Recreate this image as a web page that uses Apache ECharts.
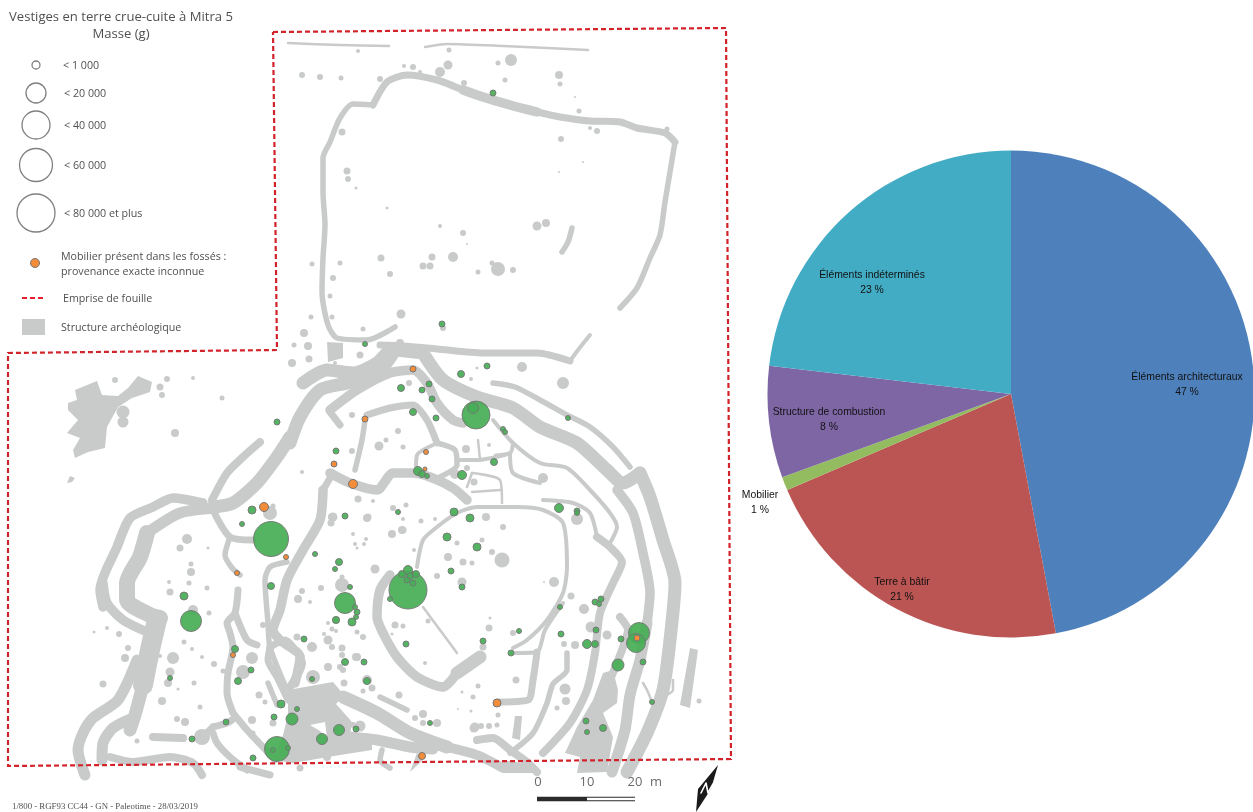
<!DOCTYPE html>
<html><head><meta charset="utf-8"><title>Mitra 5</title>
<style>html,body{margin:0;padding:0;background:#fff}#c{width:1253px;height:812px}</style>
<script src="https://cdn.jsdelivr.net/npm/echarts@6/dist/echarts.min.js"></script></head>
<body><div id="c"></div>
<script>
// ---------- pie data
const pieNames=["Éléments architecturaux","Terre à bâtir","Mobilier","Structure de combustion","Éléments indéterminés"];
const pieValues=[47.05,21.5,0.9,7.4,23.15];
const pieShown=["47 %","21 %","1 %","8 %","23 %"];
const pieColors=["#4e80bc","#bb5553","#93bc60","#7e66a5","#43acc5"];
const pieLabelXY=[[1187,385],[902,590],[760,503],[829,420],[872,283]];

// ---------- map data (axis units)
const excavation=[[273,32],[726,28],[731,759],[8,766],[8,353],[277,350],[273,32]];
const ditchW2=[
[[288,43],[340,45],[389,46]],[[425,47],[447,44],[503,46],[588,50]],
[[423,607],[440,630],[457,653]],[[673,680],[673,690],[667,695]],[[643,683],[647,690],[652,702]],
[[472,473],[500,480],[502,503]],[[472,492],[500,490]],[[467,487],[472,473]],[[478,440],[480,460]],[[495,455],[510,453]]];
const ditchW3=[
[[570,361],[578,350],[590,335]],[[493,420],[513,443],[540,463],[567,468],[590,490],[610,513],[617,527],[610,543]],
[[543,500],[573,503],[590,513],[597,537]],
[[417,567],[423,540],[437,527],[457,513],[477,507],[517,507],[543,510],[563,523],[567,567],[563,593],[547,620],[527,640],[513,648]],
[[513,653],[537,652],[545,630],[563,603]],[[433,445],[417,455],[416,470]],
[[457,460],[480,460]],[[480,460],[510,453],[513,443]],[[510,453],[513,473],[540,483]]];
const ditchW4=[
[[620,308],[637,288],[650,258],[660,235],[665,202],[670,172],[675,142]],
[[373,105],[353,104],[340,118],[330,142],[323,158],[323,192],[325,225],[323,258],[322,292],[328,325],[337,338],[367,340],[395,327]],
[[572,228],[568,242],[562,252]],[[493,383],[515,387],[540,400],[567,415],[590,427],[613,447],[630,467]],
[[355,470],[362,440],[365,420]],[[437,443],[455,450],[457,465],[433,480]],
[[287,562],[270,567],[265,580],[268,623],[270,647],[287,690]],[[230,537],[225,555],[232,568],[240,575]],
[[382,750],[380,760],[390,768]],[[380,697],[407,710]],[[268,683],[277,705]],
[[567,653],[567,670],[553,684],[547,703],[533,733],[510,753]]];
const ditchW5=[
[[675,142],[665,133],[637,128],[620,122],[590,121],[560,117],[537,112]],
[[463,90],[437,80],[407,75],[387,82],[373,105]],
[[380,345],[403,346],[437,349],[483,353],[537,353],[570,361]],
[[537,652],[533,680],[528,700],[497,702]],[[340,425],[330,412]],[[367,415],[390,408],[413,405],[427,420],[437,443]],
[[323,490],[333,473]],[[270,647],[268,660],[277,677],[288,700]],[[270,647],[285,640],[300,657]],
[[213,510],[230,537],[253,540]],[[213,727],[227,723],[232,720]],[[202,737],[213,727]],
[[233,713],[247,730],[263,747],[275,760]],[[213,733],[217,743],[230,757],[247,770]],[[240,767],[270,775]],
[[238,590],[235,613],[227,623],[230,633],[233,647],[228,673],[227,693],[233,713]],
[[235,613],[247,640],[257,645]]];
const ditchW6=[
[[212,500],[227,473],[243,457],[260,442]],[[153,737],[183,738]],[[300,657],[302,663],[288,690]],
[[477,740],[493,738],[510,750],[527,762],[537,772]],[[110,757],[133,762],[170,757],[193,763],[202,775]],
[[597,537],[610,547],[622,562],[613,583],[600,613],[595,653],[587,690],[570,723],[543,753]],
[[620,617],[628,630],[622,650],[610,680]]];
const ditchW7=[
[[537,112],[510,105],[483,97],[463,90]],[[103,583],[107,603],[123,620],[147,632]],[[203,503],[173,498],[153,507],[130,518],[117,547],[100,590],[103,607]],
[[390,575],[380,590],[377,617],[383,633],[397,657],[417,677],[443,687],[457,673]],
[[330,410],[357,390],[390,373],[413,370],[427,383],[437,403],[453,420],[463,423]],
[[330,473],[350,483],[377,490],[393,473],[413,473],[430,477],[453,488],[467,500]],
[[323,490],[320,520],[303,550],[287,580],[280,610],[273,630],[280,640],[300,657],[295,683]],
[[617,490],[633,513],[643,553],[650,593],[647,623]],[[447,747],[477,755],[503,768]]];
const ditchW8=[
[[217,508],[180,513],[147,533]],[[135,717],[113,728],[103,743],[102,760]],
[[137,660],[118,700],[93,718],[83,733],[78,750],[85,775]],[[350,737],[377,740],[410,747],[433,749]],
[[647,623],[640,660],[630,695],[625,730],[612,772]]];
const ditchW10=[
[[213,507],[233,503],[257,483],[277,457],[290,437]],[[290,443],[300,417],[320,390],[347,383],[377,373],[392,355]],
[[303,383],[327,370],[353,373],[377,363],[392,350],[423,353]],
[[423,353],[443,380],[477,397],[513,408],[540,427],[577,443],[607,470],[623,483],[640,473]],
[[640,473],[650,497],[663,540],[675,583],[670,640],[663,690],[647,733],[627,772]],
[[143,685],[135,715],[130,730]],[[343,697],[377,713],[410,733],[447,747]],[[457,673],[480,657]]];
const ditchW13=[[[147,533],[140,557],[127,583],[127,600],[150,615],[160,618]]];
const ditchW17=[[[157,620],[150,650],[143,685]]];
const structureBlocks=[
[[75,390],[97,381],[102,395],[118,396],[128,388],[138,376],[152,382],[150,392],[132,398],[118,407],[107,427],[105,448],[88,452],[75,458],[73,450],[80,438],[67,433],[78,420],[68,410],[68,403],[77,400]],
[[327,342],[343,343],[343,358],[328,362]],
[[288,690],[333,682],[344,695],[336,704],[352,722],[350,736],[372,742],[372,750],[340,755],[293,763],[272,760],[283,735],[288,715]],
[[690,648],[698,650],[690,708],[680,705]],[[515,716],[522,716],[520,740],[512,738]],
[[417,753],[410,772],[423,760]],[[502,760],[535,765],[537,770],[535,773],[503,773]],
[[613,670],[603,673],[593,700],[577,727],[565,753],[580,757],[577,773],[607,772],[613,737],[603,713],[617,703],[618,690]],
[[70,476],[75,478],[72,482],[67,483]]];
const blockGaps=[[[310,725],[325,722],[327,738],[320,731]]];
const pits=[[302,75,6],[320,77,6],[341,78,5],[380,79,6],[358,51,4],[404,66,4],[413,67,6],[420,72,4],[448,65,9],[440,72,10],[449,50,5],[464,83,6],[498,63,5],[511,60,12],[505,80,5],[559,75,8],[560,84,5],[579,111,5],[590,128,4],[597,131,6],[561,139,6],[667,129,5],[342,132,7],[347,171,7],[348,179,6],[356,188,3],[387,208,3],[440,226,4],[463,233,6],[453,257,10],[432,257,7],[423,266,7],[430,266,7],[381,258,7],[390,274,6],[340,263,5],[312,264,5],[333,278,6],[330,296,5],[332,317,5],[311,317,5],[401,314,9],[304,333,8],[363,329,5],[443,328,6],[478,272,5],[498,269,14],[513,270,6],[492,263,5],[537,226,9],[546,223,8],[583,162,2],[559,172,2],[467,244,2],[575,97,2],
[294,345,5],[308,346,8],[309,359,7],[292,363,8],[360,355,7],[400,343,8],[123,412,13],[123,422,11],[160,387,7],[167,379,6],[115,380,6],[193,378,4],[162,395,6],[222,398,5],[175,433,8],
[187,539,10],[180,548,7],[208,548,3],[191,564,5],[191,572,8],[189,583,5],[169,582,4],[170,592,7],[207,588,5],[209,613,5],[193,610,10],[184,642,5],[192,649,4],[202,657,4],[214,664,6],[223,671,5],[173,658,12],[170,672,9],[168,683,8],[194,683,5],[178,689,3],[162,701,8],[200,707,5],[177,719,6],[185,722,8],[137,741,5],[119,634,6],[107,628,4],[94,632,3],[128,648,6],[125,658,8],[103,684,7],[136,687,5],[160,656,4],[202,737,16],
[273,506,5],[270,513,14],[332,517,8],[331,523,7],[367,518,8],[392,534,8],[402,530,8],[353,534,4],[366,539,4],[355,544,4],[364,544,4],[357,548,3],[414,550,4],[403,519,4],[421,521,5],[393,508,6],[406,505,5],[375,569,9],[342,577,5],[342,585,14],[321,588,6],[302,591,6],[298,599,8],[310,602,4],[457,543,5],[448,557,8],[463,562,7],[472,563,5],[437,576,6],[462,582,9],[336,620,8],[328,623,4],[332,629,5],[336,631,4],[324,634,4],[328,640,9],[332,647,6],[342,648,7],[342,655,6],[357,632,5],[363,637,6],[312,647,10],[297,637,7],[263,625,6],[403,626,5],[395,625,7],[392,634,3],[428,621,5],[425,663,4],[357,657,8],[328,667,8],[340,667,6],
[252,658,12],[243,672,14],[259,695,7],[265,702,5],[252,720,8],[253,733,5],[273,723,7],[313,677,14],[356,657,8],[343,670,6],[367,680,10],[363,691,5],[372,688,7],[344,683,7],[399,695,7],[423,714,8],[415,718,6],[423,723,6],[437,723,8],[458,709,2],[462,692,3],[471,711,3],[473,697,5],[475,727,9],[353,725,6],[360,726,11],[327,757,8],[300,768,7],
[563,383,12],[522,367,10],[477,368,3],[471,379,4],[409,383,6],[466,449,8],[403,447,5],[474,482,7],[467,468,6],[543,478,10],[577,519,12],[486,517,8],[503,527,6],[435,519,4],[403,530,7],[482,540,5],[492,552,6],[502,560,15],[554,582,10],[544,582,2],[571,596,7],[584,609,10],[591,627,11],[607,635,9],[489,628,7],[490,618,3],[513,633,6],[483,647,7],[516,680,7],[478,686,5],[565,689,11],[566,701,8],[557,708,5],[498,715,5],[474,728,9],[481,726,6],[489,726,6],[497,725,5],[575,645,8],[699,701,5],[564,644,6],
[335,363,4],[398,431,6],[379,446,9],[386,440,5],[352,451,6],[302,472,4],[489,445,4],[455,474,10],[358,499,7],[373,501,4],[333,517,9],[368,517,7],[352,415,6]];
const greenFinds=[[493,93,6],[442,324,6],[365,344,5],[487,366,6],[461,374,7],[429,384,6],[422,390,6],[401,388,7],[432,399,6],[413,412,7],[436,418,6],[476,415,28],[473,408,11],[503,429,5],[505,432,5],[568,418,5],[494,462,7],[462,475,9],[418,471,9],[422,474,7],[427,476,5],[559,508,9],[577,511,6],[577,513,5],[454,512,8],[470,518,8],[447,537,8],[477,547,8],[451,571,6],[462,587,6],[406,644,6],[483,641,6],[519,631,5],[511,653,6],[560,607,5],[561,634,6],[595,602,6],[601,599,6],[599,604,5],[596,630,6],[587,644,9],[595,644,7],[621,639,6],[639,633,21],[636,643,19],[618,665,12],[643,662,6],[652,702,5],[586,721,6],[587,732,5],[603,728,7],[430,723,5],
[336,451,6],[277,422,6],[252,510,8],[242,524,5],[271,539,35],[345,516,6],[398,512,5],[315,554,5],[339,562,7],[335,569,5],[271,586,7],[350,587,5],[184,596,8],[191,621,21],[345,603,21],[355,607,5],[357,612,6],[356,617,5],[352,622,8],[336,620,7],[408,590,38],[408,570,9],[402,574,7],[416,574,7],[410,576,6],[407,580,6],[413,583,6],[390,599,5],[304,639,6],[345,662,7],[364,662,6],[367,681,7],[312,679,5],[235,649,7],[251,670,6],[238,681,7],[170,678,5],[281,704,8],[297,709,5],[274,717,6],[292,719,12],[339,730,11],[356,729,6],[322,739,11],[226,722,6],[192,739,6],[277,749,25],[288,748,5],[273,750,5],[253,758,6]];
const orangeFinds=[[413,369,6],[365,419,6],[334,464,6],[353,484,9],[264,507,9],[286,557,5],[237,573,5],[233,655,5],[426,452,5],[425,469,4],[497,703,8],[422,756,7],[637,638,6]];

// ---------- legend data
const legendRings=[[36,65,8],[36,93,20],[36,125,28],[36,165,33],[36,213,38]];
const legendOrange=[[35,263,9]];
const legendDash=[[22,298],[44,298]];
const legendSwatch=[[22,319],[45,319],[45,335],[22,335]];
const titleTexts=[[121,17,"Vestiges en terre crue-cuite à Mitra 5"],[121,34,"Masse (g)"]];
const legendTexts=[[63,66,"< 1 000"],[64,94,"< 20 000"],[64,126,"< 40 000"],[64,166,"< 60 000"],[64,214,"< 80 000 et plus"],[61,257,"Mobilier présent dans les fossés :"],[61,272,"provenance exacte inconnue"],[63,299,"Emprise de fouille"],[61,328,"Structure archéologique"]];
const scaleTexts=[[538,782,"0"],[587,782,"10"],[635,782,"20"],[656,782,"m"]];
const creditText=[[12,807,"1/800 - RGF93 CC44 - GN - Paleotime - 28/03/2019"]];
const scaleBlack=[[537,799],[587,799]];
const scaleWhite=[[587,799],[635,799]];
const northArrow=[[718,765],[711,789],[696,812],[698,789]];
const northLetter=[[701,793],[706,783],[708,793],[713,784]];

// ---------- series
const GREY="#c9caca";
const common={xAxisIndex:0,yAxisIndex:0,silent:true,animation:false};
function stroke(pts,w,color,z,extra){
  return Object.assign({},common,{type:'line',data:pts,showSymbol:false,symbol:'none',z:z||1,clip:false,
    lineStyle:Object.assign({width:w,color:color||GREY,cap:'round',join:'round'},extra||{})});
}
function texts(list,font,align,z){
  return Object.assign({},common,{type:'scatter',symbolSize:0,z:z||6,clip:false,
    data:list.map(t=>({value:[t[0],t[1]],label:{formatter:t[2]}})),
    label:Object.assign({show:true,position:'inside',align:align,verticalAlign:'middle',color:'#222'},font)});
}
function polys(list,color,z){
  return Object.assign({},common,{type:'custom',coordinateSystem:'cartesian2d',z:z,clip:false,
    data:list.map((p,i)=>[p[0][0],p[0][1],i]),encode:{x:0,y:1},
    renderItem:(params,api)=>({type:'polygon',shape:{points:list[params.dataIndex].map(q=>api.coord(q))},style:{fill:color}})});
}
function dots(list,fill,border,z,op,bw){
  return Object.assign({},common,{type:'scatter',data:list,symbol:'circle',symbolSize:d=>d[2],z:z,clip:false,
    itemStyle:{color:fill,borderColor:border,borderWidth:border==='none'?0:(bw||1),opacity:op==null?1:op}});
}
const FONT='"Open Sans"';
const series=[];
[[ditchW2,2.5],[ditchW3,4],[ditchW4,5.5],[ditchW5,7],[ditchW6,8],[ditchW7,9.5],[ditchW8,11],[ditchW10,13],[ditchW13,16],[ditchW17,20]]
 .forEach(g=>g[0].forEach(p=>{const s=stroke(p,g[1],GREY,1);s.smooth=0.25;series.push(s);}));
series.push(polys(structureBlocks,GREY,1));
series.push(polys(blockGaps,'#ffffff',2));
series.push(dots(pits,GREY,'none',1));
series.push(dots(greenFinds,'#45ae55','#757575',3,0.92));
series.push(dots(orangeFinds,'#f48d3a','#757575',4));
series.push(stroke(excavation,2.2,'#d2232a',5,{type:[5,3],cap:'butt',join:'miter'}));
series.push(dots(legendRings,'rgba(255,255,255,0)','#808080',4,1,1.3));
series.push(dots(legendOrange,'#f48d3a','#757575',4));
series.push(stroke(legendDash,2,'#e0202a',5,{type:[5,3],cap:'butt'}));
series.push(polys([legendSwatch],GREY,2));
series.push(stroke(scaleBlack,4.5,'#2b2b2b',5,{cap:'butt'}));
series.push(stroke(scaleWhite,4.5,'#2b2b2b',5,{cap:'butt'}));
series.push(stroke(scaleWhite,2.6,'#ffffff',6,{cap:'butt'}));
series.push(polys([northArrow],'#1a1a1a',5));
series.push(stroke(northLetter,1.6,'#ffffff',6));
series.push(texts(titleTexts,{fontFamily:FONT,fontSize:13.1},'center'));
series.push(texts(legendTexts,{fontFamily:FONT,fontSize:10.7},'left'));
series.push(texts(scaleTexts,{fontFamily:FONT,fontSize:13,color:'#444'},'center'));
series.push(texts(creditText,{fontFamily:'"Liberation Serif"',fontSize:8.8},'left'));
series.push({type:'pie',silent:true,animation:false,z:2,center:[1011,394],radius:[0,243.5],startAngle:90,clockwise:true,
  avoidLabelOverlap:false,minAngle:0,
  data:pieNames.map((n,i)=>({name:n,value:pieValues[i],itemStyle:{color:pieColors[i]}})),
  label:{show:true,position:'inside',formatter:p=>pieNames[p.dataIndex]+"\n"+pieShown[p.dataIndex],
    fontFamily:'"Liberation Sans"',fontSize:10.4,lineHeight:15,color:'#111',align:'center',verticalAlign:'middle'},
  labelLine:{show:false},
  labelLayout:p=>({x:pieLabelXY[p.dataIndex][0],y:pieLabelXY[p.dataIndex][1],align:'center',verticalAlign:'middle'})
});
const chart=echarts.init(document.getElementById('c'),null,{renderer:'canvas'});
chart.setOption({animation:false,backgroundColor:'#fff',
  grid:{left:0,right:0,top:0,bottom:0},
  xAxis:{type:'value',min:0,max:1253,show:false},
  yAxis:{type:'value',min:0,max:812,inverse:true,show:false},
  tooltip:{show:false},legend:{show:false},
  series:series});
</script></body></html>
